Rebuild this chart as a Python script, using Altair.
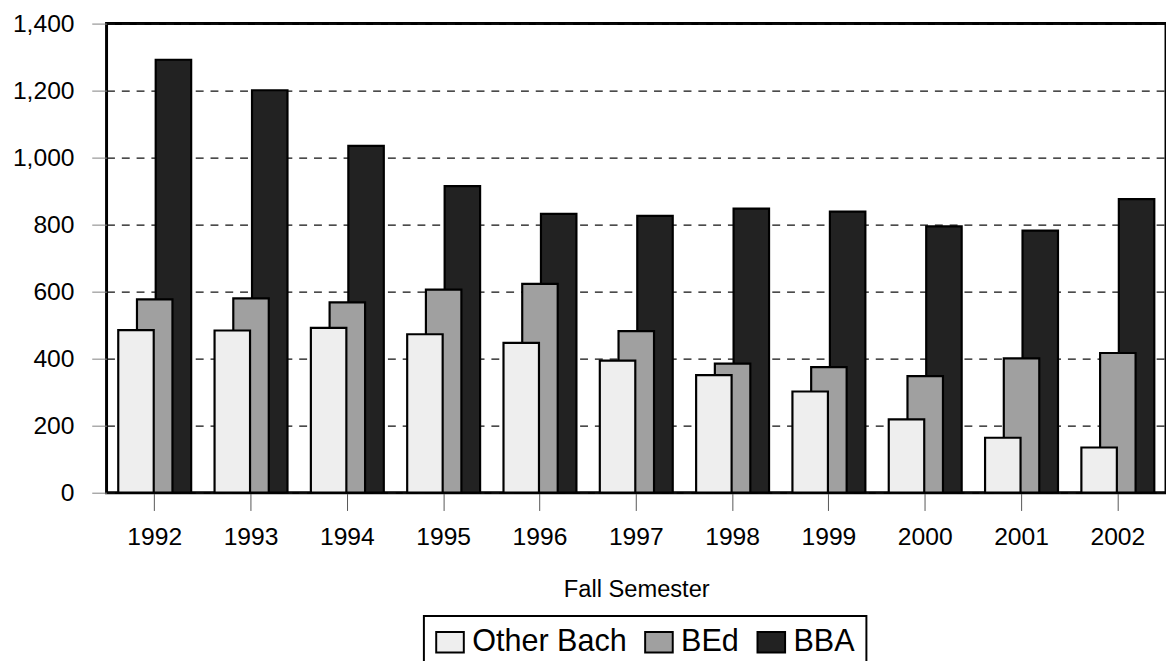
import altair as alt
import pandas as pd

years = ["1992", "1993", "1994", "1995", "1996", "1997", "1998", "1999", "2000", "2001", "2002"]
other_bach = [485, 484, 492, 473, 447, 394, 351, 302, 219, 164, 135]
bed = [577, 580, 568, 606, 623, 482, 385, 375, 348, 401, 417]
bba = [1292, 1201, 1035, 915, 832, 826, 848, 839, 795, 782, 876]

series_names = ["Other Bach", "BEd", "BBA"]
series_colors = ["#eeeeee", "#a0a0a0", "#222222"]
y_ticks = [0, 200, 400, 600, 800, 1000, 1200, 1400]

rows = []
for name, vals in zip(series_names, [other_bach, bed, bba]):
    for yr, v in zip(years, vals):
        rows.append({"year": yr, "series": name, "value": v})
df = pd.DataFrame(rows)

FONT = "Liberation Sans"

x_enc = alt.X(
    "year:N",
    sort=years,
    scale=alt.Scale(paddingInner=0, paddingOuter=0),
    axis=alt.Axis(
        title="Fall Semester",
        titleFont=FONT,
        titleFontSize=24,
        titleFontWeight="normal",
        titleColor="black",
        titleBaseline="alphabetic",
        titleY=105,
        labelFont=FONT,
        labelFontSize=25,
        labelColor="black",
        labelAngle=0,
        labelPadding=15,
        tickSize=18,
        tickColor="#555555",
        tickWidth=1,
        domain=False,
        grid=False,
    ),
)

y_enc = alt.Y(
    "value:Q",
    scale=alt.Scale(domain=[0, 1400], nice=False),
    axis=alt.Axis(
        title=None,
        values=y_ticks,
        format=",.0f",
        labelFont=FONT,
        labelFontSize=25,
        labelColor="black",
        labelPadding=18,
        tickSize=15,
        tickColor="#808080",
        tickWidth=1,
        domain=False,
        grid=True,
        gridColor="#111111",
        gridWidth=1.2,
        gridDash=[8, 7],
    ),
)

color_enc = alt.Color(
    "series:N",
    scale=alt.Scale(domain=series_names, range=series_colors),
    title=None,
    legend=alt.Legend(
        orient="none",
        legendX=322,
        legendY=601,
        direction="horizontal",
        columns=3,
        strokeColor="black",
        fillColor="white",
        padding=11,
        labelFont=FONT,
        labelFontSize=31,
        labelColor="black",
        labelOffset=7,
        columnPadding=14,
        symbolType="M-1,-0.75H1V0.75H-1Z",
        symbolSize=784,
        symbolStrokeColor="black",
        symbolStrokeWidth=2,
        symbolOpacity=1,
    ),
)

offsets = {"Other Bach": -19, "BEd": 0, "BBA": 19}

layers = []
for name in ["BBA", "BEd", "Other Bach"]:
    layers.append(
        alt.Chart(df)
        .transform_filter(alt.datum.series == name)
        .mark_bar(width=36, xOffset=offsets[name], stroke="black", strokeWidth=2.2, opacity=1)
        .encode(x=x_enc, y=y_enc, color=color_enc)
    )

chart = (
    alt.layer(*layers)
    .properties(
        width=1075,
        height=476,
        autosize=alt.AutoSizeParams(type="none"),
        padding={"left": 100, "top": 11, "right": 0, "bottom": 170},
        background="white",
    )
    .configure_view(stroke="black", strokeWidth=3)
    .configure_legend(strokeWidth=2)
)

chart.save("out.html", embed_options={"renderer": "svg", "actions": False})
